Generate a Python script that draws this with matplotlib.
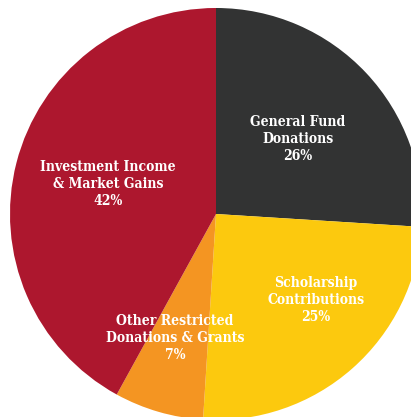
import matplotlib
matplotlib.use("Agg")
import matplotlib.pyplot as plt

# slices, clockwise from 12 o'clock
labels = ["General Fund\nDonations", "Scholarship\nContributions",
          "Other Restricted\nDonations & Grants", "Investment Income\n& Market Gains"]
shares = [26, 25, 7, 42]
colors = ["#323333", "#fcc90e", "#f49522", "#ad172e"]

# label centres (data coords, pie radius = 1)
label_pos = [(0.398, 0.364), (0.485, -0.417), (-0.199, -0.602), (-0.524, 0.146)]

fig = plt.figure(figsize=(4.11, 4.17), dpi=100)
ax = fig.add_axes([0, 0, 1, 1])
ax.pie(shares, colors=colors, startangle=90, counterclock=False,
       radius=1.0, center=(0, 0), wedgeprops=dict(linewidth=0))

for txt, s, (x, y) in zip(labels, shares, label_pos):
    ax.text(x, y, f"{txt}\n{s}%", ha="center", va="center", color="white",
            fontsize=10, family="DejaVu Serif", fontweight="bold",
            fontstretch="condensed", linespacing=1.3,
            multialignment="center")

ax.set_xlim(-1.0485, 0.9466)
ax.set_ylim(-0.9854, 1.0388)
ax.set_aspect("auto")
ax.axis("off")
fig.savefig("out.png", dpi=100)
